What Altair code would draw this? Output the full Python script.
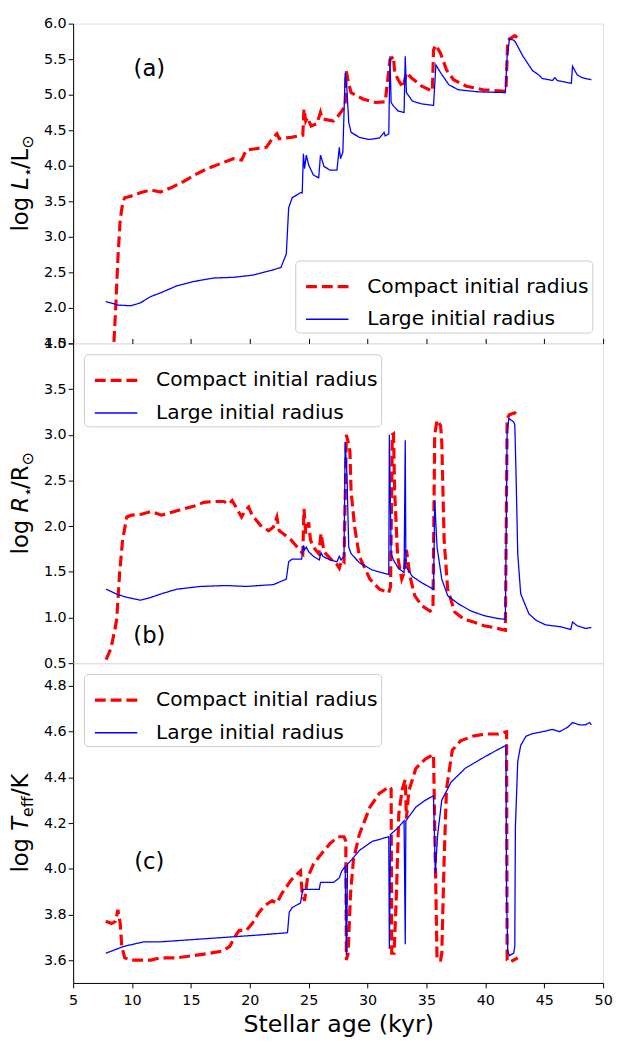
import altair as alt
import pandas as pd

COMPACT = "Compact initial radius"
LARGE = "Large initial radius"

# ---------------- Panel (a): log L / Lsun ----------------
a_red_age = [8.40, 8.63, 8.82, 8.99, 9.10, 9.21, 9.38, 9.88, 10.7, 11.6, 12.4, 13.3, 14.4, 15.3,
             16.4, 17.5, 18.6, 19.3, 19.7, 20.5, 21.4, 21.9, 22.3, 22.5, 23.5, 24.5, 24.6, 24.75,
             24.9, 25.2, 25.7, 26.0, 26.15, 27.1, 27.5, 27.8, 28.1, 28.2, 28.35, 28.6, 29.6, 30.7,
             31.5, 31.9, 32.2, 32.3, 32.6, 33.0, 33.3, 33.7, 34.6, 35.5, 35.6, 35.8, 36.2, 36.7,
             37.3, 38.4, 39.8, 41.5, 41.75, 41.9, 42.2, 42.5, 42.75]
a_red_val = [1.30, 2.06, 2.76, 3.22, 3.36, 3.48, 3.55, 3.57, 3.62, 3.66, 3.63, 3.69, 3.78, 3.87,
             3.96, 4.03, 4.10, 4.08, 4.22, 4.24, 4.26, 4.38, 4.45, 4.38, 4.40, 4.43, 4.80, 4.63,
             4.68, 4.56, 4.59, 4.75, 4.66, 4.63, 4.70, 4.77, 4.84, 5.33, 5.19, 5.03, 4.94, 4.89,
             4.90, 5.49, 5.54, 5.31, 5.21, 5.10, 5.31, 5.24, 5.12, 5.05, 5.63, 5.70, 5.58, 5.35,
             5.21, 5.12, 5.07, 5.05, 5.05, 5.77, 5.80, 5.83, 5.80]
a_blue_age = [7.77, 8.8, 9.9, 10.7, 11.6, 12.4, 13.8, 15.2, 16.9, 18.6, 20.2, 21.9, 22.65, 23.1,
              23.3, 23.6, 24.3, 24.45, 24.55, 24.65, 24.8, 25.0, 25.4, 25.85, 26.0, 26.3, 26.8,
              27.4, 27.6, 27.7, 27.9, 28.1, 28.25, 28.4, 28.6, 29.3, 30.1, 31.0, 31.4, 31.5, 31.8,
              31.9, 32.0, 32.2, 32.6, 33.1, 33.2, 33.3, 33.8, 34.6, 35.6, 35.8, 36.2, 36.9, 37.7,
              39.4, 41.7, 41.85, 42.05, 42.4, 42.55, 43.2, 44.0, 44.6, 44.8, 45.7, 45.9, 46.1,
              47.3, 47.4, 47.8, 48.2, 49.0]
a_blue_val = [2.09, 2.04, 2.03, 2.07, 2.16, 2.21, 2.31, 2.37, 2.42, 2.43, 2.46, 2.53, 2.57, 2.76,
              3.41, 3.55, 3.62, 3.62, 4.17, 3.96, 4.15, 4.01, 3.87, 3.83, 4.15, 3.99, 3.94,
              3.94, 4.26, 4.10, 4.19, 5.31, 5.07, 4.61, 4.47, 4.40, 4.37, 4.39, 4.47, 4.42, 4.45,
              5.54, 4.89, 4.84, 4.77, 4.75, 5.54, 5.03, 4.91, 4.87, 4.85, 5.42, 5.31, 5.14, 5.07,
              5.04, 5.03, 5.54, 5.78, 5.77, 5.74, 5.54, 5.34, 5.27, 5.23, 5.20, 5.24, 5.20,
              5.16, 5.40, 5.28, 5.24, 5.21]

# ---------------- Panel (b): log R / Rsun ----------------
b_red_age = [7.8, 8.2, 8.5, 8.7, 8.95, 9.2, 9.4, 9.55, 9.95, 10.8, 11.6, 12.5, 13.3, 14.4, 15.3,
             16.1, 16.9, 17.8, 18.2, 18.5, 18.9, 19.3, 19.6, 19.9, 20.2, 20.9, 21.6, 22.0, 22.3,
             22.5, 23.5, 24.5, 24.6, 24.75, 25.0, 25.15, 25.4, 25.85, 26.05, 26.3, 26.8, 27.4,
             27.6, 27.8, 28.0, 28.2, 28.35, 28.5, 28.6, 28.9, 29.3, 30.2, 31.0, 31.8, 31.95,
             32.1, 32.2, 32.3, 32.55, 32.9, 33.1, 33.3, 33.6, 34.0, 34.6, 35.3, 35.55, 35.7,
             35.9, 36.2, 36.3, 36.5, 36.8, 37.4, 38.2, 39.0, 39.9, 40.7, 41.7, 41.85, 42.05,
             42.5, 42.75]
b_red_val = [0.54, 0.66, 0.84, 0.98, 1.49, 1.85, 1.99, 2.10, 2.12, 2.13, 2.16, 2.12, 2.15, 2.19,
             2.22, 2.26, 2.27, 2.27, 2.24, 2.28, 2.19, 2.10, 2.17, 2.21, 2.12, 2.01, 1.95, 1.99,
             2.10, 1.95, 1.85, 1.70, 2.19, 1.92, 2.04, 1.85, 1.77, 1.70, 1.92, 1.72, 1.65, 1.58,
             1.54, 1.63, 1.61, 3.00, 2.92, 2.82, 2.38, 1.99, 1.67, 1.42, 1.31, 1.27, 1.34,
             3.00, 3.01, 2.38, 1.67, 1.42, 1.49, 1.74, 1.45, 1.24, 1.13, 1.07, 1.09, 3.00,
             3.16, 3.10, 2.92, 1.85, 1.31, 1.06, 0.98, 0.95, 0.91, 0.89, 0.86, 3.18, 3.22,
             3.24, 3.20]
b_blue_age = [7.8, 8.8, 9.6, 10.7, 11.6, 12.5, 13.8, 15.8, 18.0, 19.7, 22.0, 23.1, 23.3, 23.6,
              24.4, 24.55, 24.65, 24.8, 25.0, 25.4, 25.9, 26.05, 26.2, 26.8, 27.4, 27.6, 27.75,
              28.0, 28.1, 28.25, 28.4, 28.6, 29.3, 30.4, 31.8, 31.85, 32.0, 32.2, 32.6, 33.1,
              33.2, 33.25, 33.8, 34.6, 35.6, 35.7, 35.9, 36.3, 36.8, 37.7, 38.8, 39.9, 41.0,
              41.7, 41.85, 42.0, 42.4, 42.5, 42.6, 42.75, 43.0, 43.7, 44.3, 45.1, 46.3, 47.25,
              47.4, 47.8, 48.5, 49.0]
b_blue_val = [1.31, 1.25, 1.22, 1.19, 1.22, 1.26, 1.31, 1.34, 1.35, 1.34, 1.36, 1.42, 1.61, 1.64,
              1.64, 1.79, 1.74, 1.77, 1.72, 1.67, 1.63, 1.71, 1.67, 1.63, 1.61, 1.67, 1.63,
              1.67, 2.92, 2.56, 1.77, 1.70, 1.60, 1.52, 1.47, 3.00, 1.70, 1.63, 1.54, 1.49,
              2.94, 1.56, 1.45, 1.38, 1.31, 2.28, 1.77, 1.42, 1.24, 1.15, 1.07, 1.02, 0.99,
              0.98, 3.04, 3.18, 3.14, 3.11, 2.60, 1.70, 1.26, 1.04, 0.97, 0.92, 0.90, 0.87,
              0.95, 0.91, 0.88, 0.89]

# ---------------- Panel (c): log Teff / K ----------------
c_red_age = [7.77, 8.26, 8.6, 8.8, 9.0, 9.13, 9.38, 9.88, 10.7, 11.6, 12.4, 13.8, 15.2, 16.6,
             17.7, 18.3, 18.7, 19.1, 19.7, 20.2, 20.8, 21.3, 21.9, 22.3, 22.7, 23.5, 24.3,
             24.45, 24.65, 24.9, 25.4, 26.0, 26.8, 27.5, 28.0, 28.15, 28.2, 28.35, 28.55, 28.8,
             29.3, 30.2, 31.0, 31.85, 32.0, 32.05, 32.25, 32.45, 32.65, 32.95, 33.2, 33.3,
             33.5, 34.1, 34.9, 35.6, 35.75, 35.9, 36.2, 36.3, 36.5, 36.7, 37.2, 37.9, 38.9,
             40.0, 41.1, 41.8, 41.85, 42.05, 42.75]
c_red_val = [3.77, 3.76, 3.77, 3.82, 3.76, 3.66, 3.61, 3.60, 3.60, 3.60, 3.61, 3.61, 3.62, 3.63,
             3.64, 3.66, 3.70, 3.73, 3.73, 3.76, 3.81, 3.84, 3.86, 3.85, 3.89, 3.95, 3.99,
             3.89, 3.86, 3.96, 4.02, 4.06, 4.11, 4.14, 4.14, 4.12, 3.60, 3.63, 3.89, 4.04,
             4.15, 4.27, 4.33, 4.36, 4.35, 3.63, 3.63, 3.89, 4.24, 4.35, 4.39, 4.22,
             4.34, 4.44, 4.48, 4.50, 4.04, 3.60, 3.60, 3.63, 4.04, 4.35, 4.52, 4.56, 4.58,
             4.59, 4.59, 4.60, 3.60, 3.59, 3.61]
c_blue_age = [7.77, 9.3, 11.0, 12.4, 15.2, 18.0, 20.8, 23.2, 23.35, 23.6, 24.3, 24.5, 24.9, 25.9,
              26.0, 27.1, 27.6, 27.8, 28.1, 28.2, 28.3, 28.65, 29.3, 30.4, 31.8, 31.85, 31.95,
              32.6, 33.1, 33.2, 33.25, 34.1, 34.9, 35.6, 35.75, 35.95, 36.3, 37.1, 38.3, 39.6,
              41.0, 41.75, 41.8, 41.9, 42.05, 42.4, 42.5, 42.55, 42.75, 43.0, 43.45, 43.9,
              44.85, 45.7, 46.3, 47.0, 47.4, 48.0, 48.5, 48.85, 49.0]
c_blue_val = [3.63, 3.66, 3.68, 3.68, 3.69, 3.70, 3.71, 3.72, 3.81, 3.83, 3.85, 3.91, 3.91, 3.91,
              3.94, 3.94, 3.96, 3.99, 4.01, 3.62, 4.02, 4.04, 4.08, 4.12, 4.14, 3.65, 4.15,
              4.18, 4.21, 3.67, 4.21, 4.27, 4.30, 4.32, 3.98, 4.15, 4.30, 4.38, 4.44, 4.48,
              4.52, 4.54, 3.89, 3.64, 3.62, 3.63, 3.66, 4.18, 4.47, 4.54, 4.58, 4.59,
              4.60, 4.61, 4.60, 4.62, 4.64, 4.63, 4.63, 4.64, 4.63]

panel_tags = ["(a)", "(b)", "(c)"]
tag_age = [11.47, 11.47, 11.47]
tag_val = [5.36, 0.80, 4.03]

x_ticks = [5, 10, 15, 20, 25, 30, 35, 40, 45, 50]
a_ticks = [1.5, 2.0, 2.5, 3.0, 3.5, 4.0, 4.5, 5.0, 5.5, 6.0]
b_ticks = [0.5, 1.0, 1.5, 2.0, 2.5, 3.0, 3.5, 4.0]
c_ticks = [3.6, 3.8, 4.0, 4.2, 4.4, 4.6, 4.8]

# y-axis title pieces: (text, kind) kind: n = normal, i = italic, s = subscript
a_title = [("log ", "n"), ("L", "i"), ("⋆", "s"), ("/L", "n"), ("⊙", "s")]
b_title = [("log ", "n"), ("R", "i"), ("⋆", "s"), ("/R", "n"), ("⊙", "s")]
c_title = [("log ", "n"), ("T", "i"), ("eff", "s"), ("/K", "n")]

FONT = "DejaVu Sans"
W = 537
H = 324
TITLE_FS = 23
SUB_FS = 16
TITLE_X = -46

# approximate DejaVu Sans advance widths (em)
ADV = {"l": .278, "o": .612, "g": .635, " ": .318, "L": .557, "R": .695, "T": .611,
       "/": .337, "K": .656, "e": .615, "f": .352, "⋆": .50, "⊙": .838}


def text_width(s, fs):
    return sum(ADV.get(ch, .6) for ch in s) * fs


def title_layers(pieces):
    sizes = [SUB_FS if k == "s" else TITLE_FS for _, k in pieces]
    widths = [text_width(t, fs) for (t, _), fs in zip(pieces, sizes)]
    total = sum(widths)
    y = H / 2 + total / 2
    layers = []
    for (t, k), fs, w in zip(pieces, sizes, widths):
        layers.append(
            alt.Chart(pd.DataFrame({"t": [t]})).mark_text(
                font=FONT, fontSize=fs, fontStyle="italic" if k == "i" else "normal",
                angle=270, align="left", baseline="alphabetic", color="black",
            ).encode(text="t:N", x=alt.value(TITLE_X + (5 if k == "s" else 0)), y=alt.value(y))
        )
        y -= w
    return layers


def frame(red_age, red_val, blue_age, blue_val):
    rows = []
    for i, (x, y) in enumerate(zip(red_age, red_val)):
        rows.append({"age": x, "val": y, "series": COMPACT, "order": i})
    for i, (x, y) in enumerate(zip(blue_age, blue_val)):
        rows.append({"age": x, "val": y, "series": LARGE, "order": i})
    return pd.DataFrame(rows)


def panel(df, ydomain, yticks, title_pieces, tag_idx, legend_orient, xaxis):
    legend = alt.Legend(
        title=None, orient=legend_orient, offset=11, labelFontSize=20.5, labelFont=FONT,
        symbolType="stroke", symbolSize=1849, labelOffset=17, padding=3, symbolOffset=6,
        labelLimit=400, fillColor="white", strokeColor="#cccccc", cornerRadius=4,
        rowPadding=-11, labelColor="black",
    )
    xs = alt.Scale(domain=[5, 50], nice=False, zero=False)
    ys = alt.Scale(domain=ydomain, nice=False, zero=False)
    yaxis = alt.Axis(values=yticks, format=".1f", title=None, grid=False, tickSize=5,
                     labelFontSize=14.5, labelFont=FONT, labelColor="black",
                     tickColor="black", domainColor="black", labelFlush=False,
                     labelOverlap=False)
    lines = alt.Chart(df).mark_line(clip=True).encode(
        x=alt.X("age:Q", scale=xs, axis=xaxis),
        y=alt.Y("val:Q", scale=ys, axis=yaxis),
        color=alt.Color("series:N", scale=alt.Scale(domain=[COMPACT, LARGE],
                                                    range=["#ff0000", "#0000ff"]), legend=legend),
        strokeDash=alt.StrokeDash("series:N", scale=alt.Scale(domain=[COMPACT, LARGE],
                                                              range=[[11, 5], [1, 0]]), legend=legend),
        strokeWidth=alt.StrokeWidth("series:N", scale=alt.Scale(domain=[COMPACT, LARGE],
                                                                range=[3.2, 1.3]), legend=legend),
        order="order:Q",
        detail="series:N",
    )
    tag_df = pd.DataFrame({"tag": [panel_tags[tag_idx]], "age": [tag_age[tag_idx]],
                           "val": [tag_val[tag_idx]]})
    tag = alt.Chart(tag_df).mark_text(fontSize=23, font=FONT, color="black").encode(
        x=alt.X("age:Q", scale=xs, axis=xaxis), y=alt.Y("val:Q", scale=ys, axis=yaxis),
        text="tag:N")
    return alt.layer(lines, tag, *title_layers(title_pieces)).properties(width=W, height=H)


top_ticks = alt.Axis(orient="top", values=x_ticks, labels=False, title=None, grid=False,
                     tickSize=5, tickColor="black", domain=False)
bottom_axis = alt.Axis(values=x_ticks, format="d", title="Stellar age (kyr)", grid=False,
                       tickSize=5, labelFontSize=14.5, titleFontSize=24, titleFontWeight="normal",
                       labelFont=FONT, titleFont=FONT, labelColor="black", titleColor="black",
                       tickColor="black", domainColor="black", labelFlush=False,
                       labelPadding=6, titlePadding=6)

pa = panel(frame(a_red_age, a_red_val, a_blue_age, a_blue_val), [1.5, 6.0], a_ticks,
           a_title, 0, "bottom-right", None)
pb = panel(frame(b_red_age, b_red_val, b_blue_age, b_blue_val), [0.5, 4.0], b_ticks,
           b_title, 1, "top-left", top_ticks)
pc = panel(frame(c_red_age, c_red_val, c_blue_age, c_blue_val), [3.5, 4.9], c_ticks,
           c_title, 2, "top-left", bottom_axis)

chart = alt.vconcat(pa, pb, pc, spacing=0, bounds="flush").resolve_scale(
    y="independent", color="independent", strokeDash="independent", strokeWidth="independent"
).resolve_legend(
    color="independent", strokeDash="independent", strokeWidth="independent"
).configure_view(stroke="black", strokeWidth=1).configure(
    font=FONT, padding={"left": 1, "top": 0, "right": 0, "bottom": 0}
)

chart.save("out.html", embed_options={"renderer": "svg", "actions": False})
